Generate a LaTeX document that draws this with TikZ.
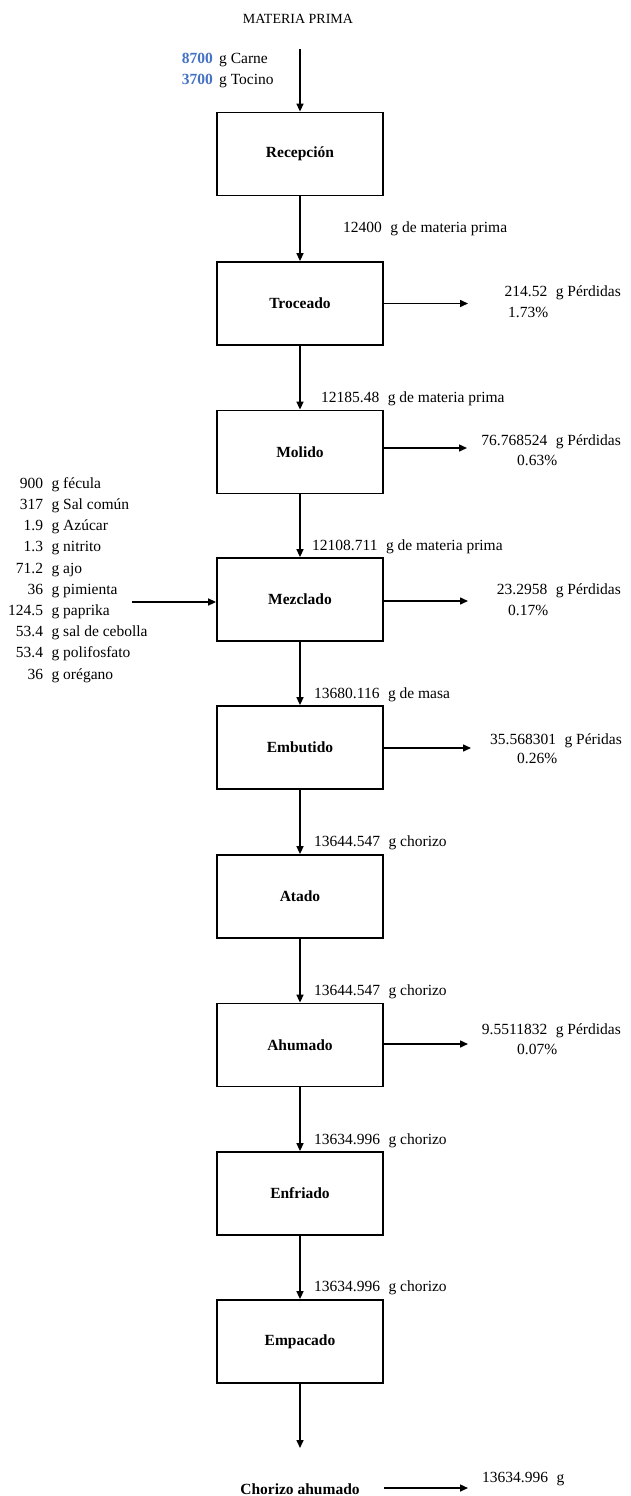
\documentclass[tikz,border=0pt]{standalone}
\usepackage{fontspec}
\setmainfont{Liberation Serif}
\usetikzlibrary{arrows.meta}
\definecolor{qblue}{HTML}{4472C4}
\newcommand\numgap{\hspace{0.55em}}

\begin{document}
\begin{tikzpicture}[x=1pt,y=-1pt,
  every node/.style={font=\fontsize{15.5}{20}\selectfont, inner sep=0pt},
  stage/.style={draw, line width=1.8pt, minimum width=166pt, minimum height=83pt,
                font=\fontsize{15.5}{20}\selectfont\bfseries},
  flow/.style={line width=1.5pt, -{Triangle[length=8pt,width=7pt]}},
  txt/.style={anchor=mid west},
  txr/.style={anchor=mid east},
]
\useasboundingbox (0,0) rectangle (631,1496);

% process stages
\node[stage] (rec) at (300,154)    {Recepción};
\node[stage] (tro) at (300,303.5)  {Troceado};
\node[stage] (mol) at (300,452)    {Molido};
\node[stage] (mez) at (300,599.5)  {Mezclado};
\node[stage] (emb) at (300,747.5)  {Embutido};
\node[stage] (ata) at (300,896.5)  {Atado};
\node[stage] (ahu) at (300,1045)   {Ahumado};
\node[stage] (enf) at (300,1193.5) {Enfriado};
\node[stage] (emp) at (300,1341.5) {Empacado};

% raw material input
\node[font=\fontsize{14}{16}\selectfont] (mp) at (298,19) {MATERIA PRIMA};
\node[txr, font=\fontsize{15.5}{20}\selectfont\bfseries, text=qblue] (q1) at (213,61) {8700};
\node[txt] (c1) at (219,61) {g Carne};
\node[txr, font=\fontsize{15.5}{20}\selectfont\bfseries, text=qblue] (q2) at (213,82) {3700};
\node[txt] (c2) at (219,82) {g Tocino};
\coordinate (top) at (300,49);
\draw[flow] (top) -- (rec);

% main line
\draw[flow] (rec) -- (tro);
\draw[flow] (tro) -- (mol);
\draw[flow] (mol) -- (mez);
\draw[flow] (mez) -- (emb);
\draw[flow] (emb) -- (ata);
\draw[flow] (ata) -- (ahu);
\draw[flow] (ahu) -- (enf);
\draw[flow] (enf) -- (emp);
\coordinate (out) at (300,1448);
\draw[flow] (emp) -- (out);

% mass between stages
\node[txt] (m1) at (343,230)  {12400\numgap g de materia prima};
\node[txt] (m2) at (321,400)  {12185.48\numgap g de materia prima};
\node[txt] (m3) at (312,548)  {12108.711\numgap g de materia prima};
\node[txt] (m4) at (314,696)  {13680.116\numgap g de masa};
\node[txt] (m5) at (314,844)  {13644.547\numgap g chorizo};
\node[txt] (m6) at (314,993)  {13644.547\numgap g chorizo};
\node[txt] (m7) at (314,1142) {13634.996\numgap g chorizo};
\node[txt] (m8) at (314,1289) {13634.996\numgap g chorizo};

% losses
\coordinate (l1) at (468,303.5);
\coordinate (l2) at (467,448);
\coordinate (l3) at (468,601);
\coordinate (l4) at (471,748);
\coordinate (l5) at (468,1044);
\draw[flow] (tro.east |- l1) -- (l1);
\draw[flow] (mol.east |- l2) -- (l2);
\draw[flow] (mez.east |- l3) -- (l3);
\draw[flow] (emb.east |- l4) -- (l4);
\draw[flow] (ahu.east |- l5) -- (l5);
\node[txr] (p1) at (621,294)  {214.52\numgap g Pérdidas};
\node[txt] (r1) at (508,315)  {1.73\%};
\node[txr] (p2) at (621,443)  {76.768524\numgap g Pérdidas};
\node[txt] (r2) at (517,463)  {0.63\%};
\node[txr] (p3) at (621,592)  {23.2958\numgap g Pérdidas};
\node[txt] (r3) at (508,613)  {0.17\%};
\node[txr] (p4) at (622,742)  {35.568301\numgap g Péridas};
\node[txt] (r4) at (517,761)  {0.26\%};
\node[txr] (p5) at (621,1032) {9.5511832\numgap g Pérdidas};
\node[txt] (r5) at (517,1052) {0.07\%};

% ingredients added at mixing
\node[anchor=west, font=\fontsize{15.5}{21.2}\selectfont] (ing) at (8,579.5) {%
  \begin{tabular}{@{}r@{\numgap}l@{}}
  900 & g fécula\\
  317 & g Sal común\\
  1.9 & g Azúcar\\
  1.3 & g nitrito\\
  71.2 & g ajo\\
  36 & g pimienta\\
  124.5 & g paprika\\
  53.4 & g sal de cebolla\\
  53.4 & g polifosfato\\
  36 & g orégano
  \end{tabular}};
\coordinate (in) at (132,602);
\draw[flow] (in) -- (mez.west |- in);

% final product
\node[anchor=base, font=\fontsize{15.5}{20}\selectfont\bfseries] (cho) at (300,1494) {Chorizo ahumado};
\coordinate (fs) at (384,1488);
\coordinate (fe) at (468,1488);
\draw[flow] (fs) -- (fe);
\node[txt] (fin) at (482,1480) {13634.996\numgap g};
\end{tikzpicture}
\end{document}
